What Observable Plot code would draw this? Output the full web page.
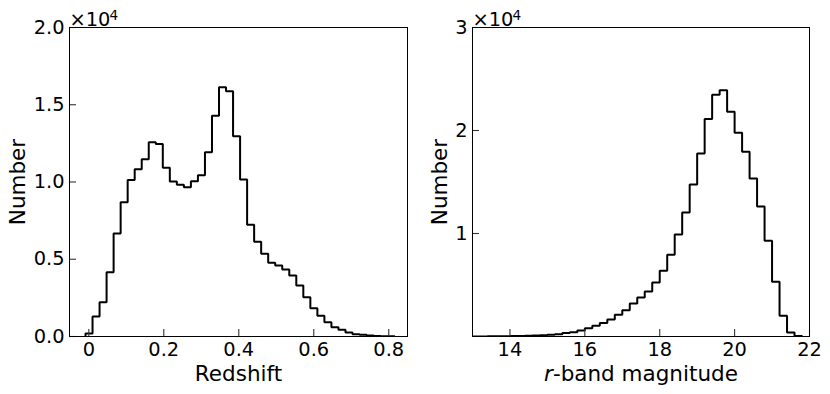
<!DOCTYPE html>
<html><head><meta charset="utf-8">
<script src="https://cdn.jsdelivr.net/npm/d3@7"></script>
<script src="https://cdn.jsdelivr.net/npm/@observablehq/plot@0.6"></script>
<style>
html,body{margin:0;padding:0;background:#fff;}
#wrap{display:flex;width:830px;height:394px;overflow:hidden;}
#wrap svg{display:block;}
</style></head><body><div id="wrap"></div>
<script>
// ---------- data (counts in units of 10^4) ----------
// Left panel: redshift histogram
const zBinStart = -0.0088;
const zBinWidth = 0.01874;
const zCounts = [0.02,0.129,0.222,0.416,0.666,0.869,1.013,1.082,1.147,1.257,1.246,1.093,1.003,0.983,0.966,1.005,1.043,1.192,1.428,1.613,1.587,1.296,1.016,0.724,0.614,0.535,0.477,0.459,0.433,0.395,0.33,0.254,0.183,0.134,0.093,0.06,0.043,0.026,0.015,0.011,0.006,0.004,0.002,0.001];
const zTicks = [0, 0.2, 0.4, 0.6, 0.8];
const zTickLabels = ["0", "0.2", "0.4", "0.6", "0.8"];
const nLeftTicks = [0, 0.5, 1.0, 1.5, 2.0];
const nLeftTickLabels = ["0.0", "0.5", "1.0", "1.5", "2.0"];

// Right panel: r-band magnitude histogram
const mBinStart = 13.0;
const mBinWidth = 0.2;
const mCounts = [0.001,0.001,0.002,0.002,0.003,0.004,0.006,0.008,0.010,0.013,0.017,0.023,0.033,0.042,0.058,0.081,0.104,0.13,0.165,0.211,0.256,0.320,0.379,0.437,0.524,0.638,0.793,0.990,1.204,1.476,1.777,2.111,2.347,2.39,2.182,1.978,1.793,1.534,1.262,0.929,0.531,0.201,0.039,0.006];
const mTicks = [14, 16, 18, 20, 22];
const mTickLabels = ["14", "16", "18", "20", "22"];
const nRightTicks = [1, 2, 3];
const nRightTickLabels = ["1", "2", "3"];

const yLabel = "Number";
const xLabelLeft = "Redshift";
const xLabelRightItalic = "r";
const xLabelRightRest = "-band magnitude";
const offsetBase = "×10";
const offsetExp = "4";

// ---------- styling ----------
const FONT = "DejaVu Sans";
const TICK_FS = 19.4;
const LABEL_FS = 21.5;
const W = 415, H = 394;
const MT = 27, MB = 58;
const TICK_LEN = 7;

function stepPoints(start, width, counts) {
  const pts = [{x: start, y: 0}];
  counts.forEach((c, i) => pts.push({x: start + i * width, y: c}));
  pts.push({x: start + counts.length * width, y: 0});
  return pts;
}

function panel({xDomain, yDomain, ml, mr, counts, binStart, binWidth, xTicks, xTickLabels, yTicks, yTickLabels, xLabelMarks, yLabelDx}) {
  const frameW = W - ml - mr, frameH = H - MT - MB;
  const xFmt = new Map(xTicks.map((t, i) => [t, xTickLabels[i]]));
  const yFmt = new Map(yTicks.map((t, i) => [t, yTickLabels[i]]));
  return Plot.plot({
    width: W, height: H,
    marginLeft: ml, marginRight: mr, marginTop: MT, marginBottom: MB,
    style: {fontFamily: FONT, fontSize: TICK_FS + "px", color: "black", background: "white", overflow: "visible"},
    x: {domain: xDomain},
    y: {domain: yDomain},
    marks: [
      Plot.line(stepPoints(binStart, binWidth, counts), {x: "x", y: "y", curve: "step-after", stroke: "black", strokeWidth: 2, strokeLinejoin: "miter", strokeLinecap: "butt", clip: true}),
      Plot.tickX(xTicks, {x: d => d, insetTop: frameH - TICK_LEN, stroke: "#333", strokeWidth: 1.1}),
      Plot.tickY(yTicks, {y: d => d, insetRight: frameW - TICK_LEN, stroke: "#333", strokeWidth: 1.1}),
      Plot.axisX(xTicks, {tickSize: 0, tickPadding: 6, tickFormat: d => xFmt.get(d), fontSize: TICK_FS, label: null}),
      Plot.axisY(yTicks, {tickSize: 0, tickPadding: 5, tickFormat: d => yFmt.get(d), fontSize: TICK_FS, label: null}),
      Plot.frame({stroke: "black", strokeWidth: 1}),
      Plot.text([offsetBase], {frameAnchor: "top-left", textAnchor: "start", lineAnchor: "top", dy: -15, fontSize: TICK_FS}),
      Plot.text([offsetExp], {frameAnchor: "top-left", textAnchor: "start", lineAnchor: "top", dx: 40, dy: -17.5, fontSize: 13.6}),
      Plot.text([yLabel], {frameAnchor: "left", rotate: -90, textAnchor: "middle", lineAnchor: "middle", dx: yLabelDx, fontSize: LABEL_FS}),
      ...xLabelMarks
    ]
  });
}

const left = panel({
  xDomain: [-0.0515, 0.85], yDomain: [0, 2], ml: 69, mr: 8,
  counts: zCounts, binStart: zBinStart, binWidth: zBinWidth,
  xTicks: zTicks, xTickLabels: zTickLabels, yTicks: nLeftTicks, yTickLabels: nLeftTickLabels,
  yLabelDx: -51.5,
  xLabelMarks: [Plot.text([xLabelLeft], {frameAnchor: "bottom", textAnchor: "middle", lineAnchor: "top", dy: 29, fontSize: LABEL_FS})]
});

// widths for italic r + rest, centred under the frame
const rW = 0.411 * LABEL_FS, restW = 8.606 * LABEL_FS;
const joinDx = -(rW + restW) / 2 + rW;
const right = panel({
  xDomain: [13, 22], yDomain: [0, 3], ml: 57, mr: 21,
  counts: mCounts, binStart: mBinStart, binWidth: mBinWidth,
  xTicks: mTicks, xTickLabels: mTickLabels, yTicks: nRightTicks, yTickLabels: nRightTickLabels,
  yLabelDx: -32.5,
  xLabelMarks: [
    Plot.text([xLabelRightItalic], {frameAnchor: "bottom", textAnchor: "end", lineAnchor: "top", dy: 29, dx: joinDx, fontSize: LABEL_FS, fontStyle: "italic"}),
    Plot.text([xLabelRightRest], {frameAnchor: "bottom", textAnchor: "start", lineAnchor: "top", dy: 29, dx: joinDx, fontSize: LABEL_FS})
  ]
});

document.getElementById("wrap").append(left, right);
</script></body></html>
